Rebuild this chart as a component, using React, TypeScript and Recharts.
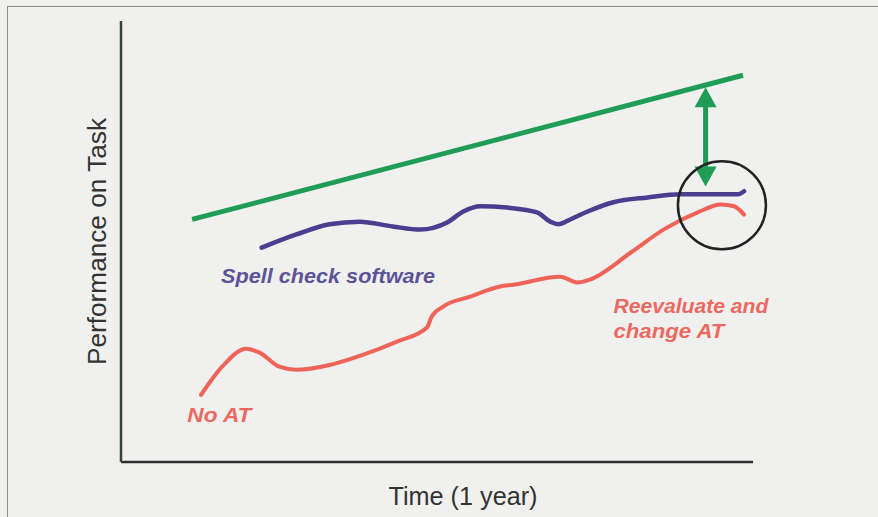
import { LineChart, Line, XAxis, YAxis, ReferenceDot, ReferenceLine } from "recharts";

// x = months into the year, y = performance (0-100)
const goal = [
  { x: 1.35, y: 55.0 },
  { x: 11.81, y: 87.7 },
];

const spellCheck = [
  { x: 2.67, y: 48.6 }, { x: 3.33, y: 51.6 }, { x: 3.96, y: 53.9 }, { x: 4.53, y: 54.5 },
  { x: 5.16, y: 53.4 }, { x: 5.68, y: 52.7 }, { x: 6.19, y: 54.3 }, { x: 6.5, y: 56.8 },
  { x: 6.82, y: 58.0 }, { x: 7.33, y: 57.7 }, { x: 7.9, y: 56.6 }, { x: 8.15, y: 54.5 },
  { x: 8.3, y: 53.9 }, { x: 8.53, y: 55.0 }, { x: 8.86, y: 56.8 }, { x: 9.35, y: 58.9 },
  { x: 10.0, y: 60.0 }, { x: 10.63, y: 60.7 }, { x: 11.26, y: 60.7 }, { x: 11.71, y: 60.7 },
  { x: 11.83, y: 61.4 },
];

const noAT = [
  { x: 1.52, y: 15.2 }, { x: 1.92, y: 21.6 }, { x: 2.38, y: 25.7 }, { x: 2.63, y: 24.8 },
  { x: 3.01, y: 21.6 }, { x: 3.33, y: 20.9 }, { x: 3.96, y: 22.0 }, { x: 4.59, y: 24.3 },
  { x: 5.24, y: 27.3 }, { x: 5.81, y: 30.5 }, { x: 5.9, y: 33.0 }, { x: 6.11, y: 35.2 },
  { x: 6.63, y: 37.5 }, { x: 7.2, y: 39.8 }, { x: 7.45, y: 40.2 }, { x: 8.34, y: 42.0 },
  { x: 8.67, y: 40.7 }, { x: 8.91, y: 41.4 }, { x: 9.68, y: 47.5 }, { x: 10.3, y: 52.7 },
  { x: 10.95, y: 56.6 }, { x: 11.39, y: 58.4 }, { x: 11.64, y: 58.0 }, { x: 11.83, y: 56.1 },
];

const gapArrow = { x: 11.1, top: 85.0, bottom: 62.5 };
const focusCircle = { x: 11.41, y: 58.2 };

const notes = [
  { text: "Spell check software", x: 1.9, y: 40.5, color: "#5c5399", len: 214 },
  { text: "No AT", x: 1.26, y: 9.1, color: "#ec6962", len: 64 },
  { text: "Reevaluate and", x: 9.35, y: 33.9, color: "#ec6962", len: 155 },
  { text: "change AT", x: 9.35, y: 28.2, color: "#ec6962", len: 111 },
];

const FONT = "'Liberation Sans', Arial, sans-serif";

function ArrowShape(p: any) {
  const x = p.x1;
  const y1 = Math.min(p.y1, p.y2);
  const y2 = Math.max(p.y1, p.y2);
  const hw = 11, hl = 20;
  return (
    <g fill="#1f9d57">
      <rect x={x - 2.5} y={y1 + hl - 2} width={5} height={y2 - y1 - 2 * hl + 4} />
      <polygon points={`${x},${y1} ${x - hw},${y1 + hl} ${x + hw},${y1 + hl}`} />
      <polygon points={`${x},${y2} ${x - hw},${y2 - hl} ${x + hw},${y2 - hl}`} />
    </g>
  );
}

function XTitle(props: any) {
  const vb = props.viewBox;
  return (
    <text x={vb.x + vb.width / 2 + 26} y={vb.y + 43} textAnchor="middle" fontSize={25}
      fontFamily={FONT} fill="#333" textLength={149} lengthAdjust="spacingAndGlyphs">
      Time (1 year)
    </text>
  );
}

function YTitle(props: any) {
  const vb = props.viewBox;
  const cx = vb.x + vb.width - 15;
  const cy = vb.y + vb.height / 2;
  return (
    <text x={cx} y={cy} transform={`rotate(-90 ${cx} ${cy})`} textAnchor="middle" fontSize={26}
      fontFamily={FONT} fill="#333" textLength={247} lengthAdjust="spacingAndGlyphs">
      Performance on Task
    </text>
  );
}

export default function App() {
  return (
    <div style={{ position: "fixed", left: 0, top: 0, width: 878, height: 517, background: "#f0f0ee", overflow: "hidden" }}>
      <div style={{ position: "absolute", left: 7, top: 6, width: 900, height: 600, border: "1.5px solid #8c8c8c" }} />
      <div style={{ position: "absolute", left: 0, top: 0 }}>
        <LineChart width={878} height={517} margin={{ top: 21, right: 125, bottom: 54, left: 120 }}>
          <XAxis
            type="number"
            dataKey="x"
            domain={[0, 12]}
            tick={false}
            tickLine={false}
            height={1}
            axisLine={{ stroke: "#2f2f2f", strokeWidth: 2.5 }}
            label={<XTitle />}
          />
          <YAxis
            type="number"
            dataKey="y"
            domain={[0, 100]}
            tick={false}
            tickLine={false}
            width={1}
            axisLine={{ stroke: "#33453f", strokeWidth: 2.5 }}
            label={<YTitle />}
          />
          <Line data={goal} dataKey="y" type="linear" stroke="#1f9d57" strokeWidth={5} dot={false} isAnimationActive={false} />
          <Line data={spellCheck} dataKey="y" type="monotone" stroke="#4a3e90" strokeWidth={4.5} strokeLinecap="round" dot={false} isAnimationActive={false} />
          <Line data={noAT} dataKey="y" type="monotone" stroke="#ef6358" strokeWidth={4} strokeLinecap="round" dot={false} isAnimationActive={false} />
          <ReferenceLine
            segment={[{ x: gapArrow.x, y: gapArrow.top }, { x: gapArrow.x, y: gapArrow.bottom }]}
            shape={ArrowShape}
          />
          <ReferenceDot x={focusCircle.x} y={focusCircle.y} r={44} fill="none" stroke="#222" strokeWidth={2.5} />
          {notes.map((n) => (
            <ReferenceDot
              key={n.text}
              x={n.x}
              y={n.y}
              r={1}
              fill="none"
              stroke="none"
              label={{
                content: (props: any) => {
                  const vb = props.viewBox;
                  return (
                    <text x={vb.x + vb.width / 2} y={vb.y + vb.height / 2} fontSize={20} fontWeight="bold"
                      fontStyle="italic" fontFamily={FONT} fill={n.color} textLength={n.len}
                      lengthAdjust="spacingAndGlyphs">
                      {n.text}
                    </text>
                  );
                },
              }}
            />
          ))}
        </LineChart>
      </div>
    </div>
  );
}
